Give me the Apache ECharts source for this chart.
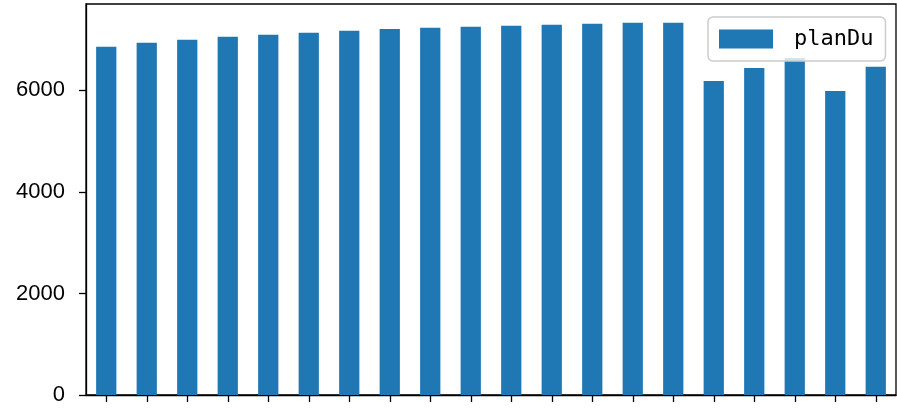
<!DOCTYPE html>
<html>
<head>
<meta charset="utf-8">
<script src="https://cdn.jsdelivr.net/npm/echarts@6/dist/echarts.min.js"></script>
<style>html,body{margin:0;padding:0;background:#fff;}#c{width:897px;height:409px;}</style>
</head>
<body>
<div id="c"></div>
<script>
const categories = ['1','2','3','4','5','6','7','8','9','10','11','12','13','14','15','16','17','18','19','20'];
const planDu = [6857, 6935, 6994, 7053, 7092, 7132, 7171, 7210, 7230, 7250, 7270, 7290, 7310, 7329, 7329, 6186, 6442, 6639, 5989, 6462];
const yTicks = [0, 2000, 4000, 6000];

const chart = echarts.init(document.getElementById('c'), null, {renderer: 'canvas'});
chart.setOption({
  animation: false,
  backgroundColor: '#fff',
  grid: {left: 86, right: 1, top: 4, bottom: 14, show: true, borderColor: '#000', borderWidth: 1.3, backgroundColor: 'transparent'},
  legend: {
    data: ['planDu'],
    left: 708, top: 17,
    padding: [11, 12, 11, 11],
    itemWidth: 54, itemHeight: 19,
    itemGap: 10,
    backgroundColor: 'rgba(255,255,255,0.8)',
    borderColor: '#cccccc', borderWidth: 1.5, borderRadius: 5,
    icon: 'rect',
    textStyle: {fontFamily: 'DejaVu Sans Mono', fontSize: 22, color: '#000', padding: [0, 0, 0, 16], lineHeight: 19}
  },
  xAxis: {
    type: 'category', data: categories,
    axisLine: {show: true, lineStyle: {color: '#000', width: 1.3}},
    axisTick: {show: true, alignWithLabel: true, length: 7, lineStyle: {color: '#000', width: 1.3}},
    axisLabel: {show: false},
    splitLine: {show: false}
  },
  yAxis: {
    type: 'value', min: 0, max: 7700,
    axisLine: {show: true, lineStyle: {color: '#000', width: 1.3}},
    axisTick: {show: true, length: 7, customValues: yTicks, lineStyle: {color: '#000', width: 1.3}},
    axisLabel: {customValues: yTicks, formatter: v => String(v), fontFamily: 'Liberation Sans', fontSize: 22, color: '#000', margin: 21},
    splitLine: {show: false}
  },
  series: [{
    name: 'planDu', type: 'bar', data: planDu, barWidth: '50%', z: 1,
    itemStyle: {color: '#1f77b4'}
  }]
});
</script>
</body>
</html>
